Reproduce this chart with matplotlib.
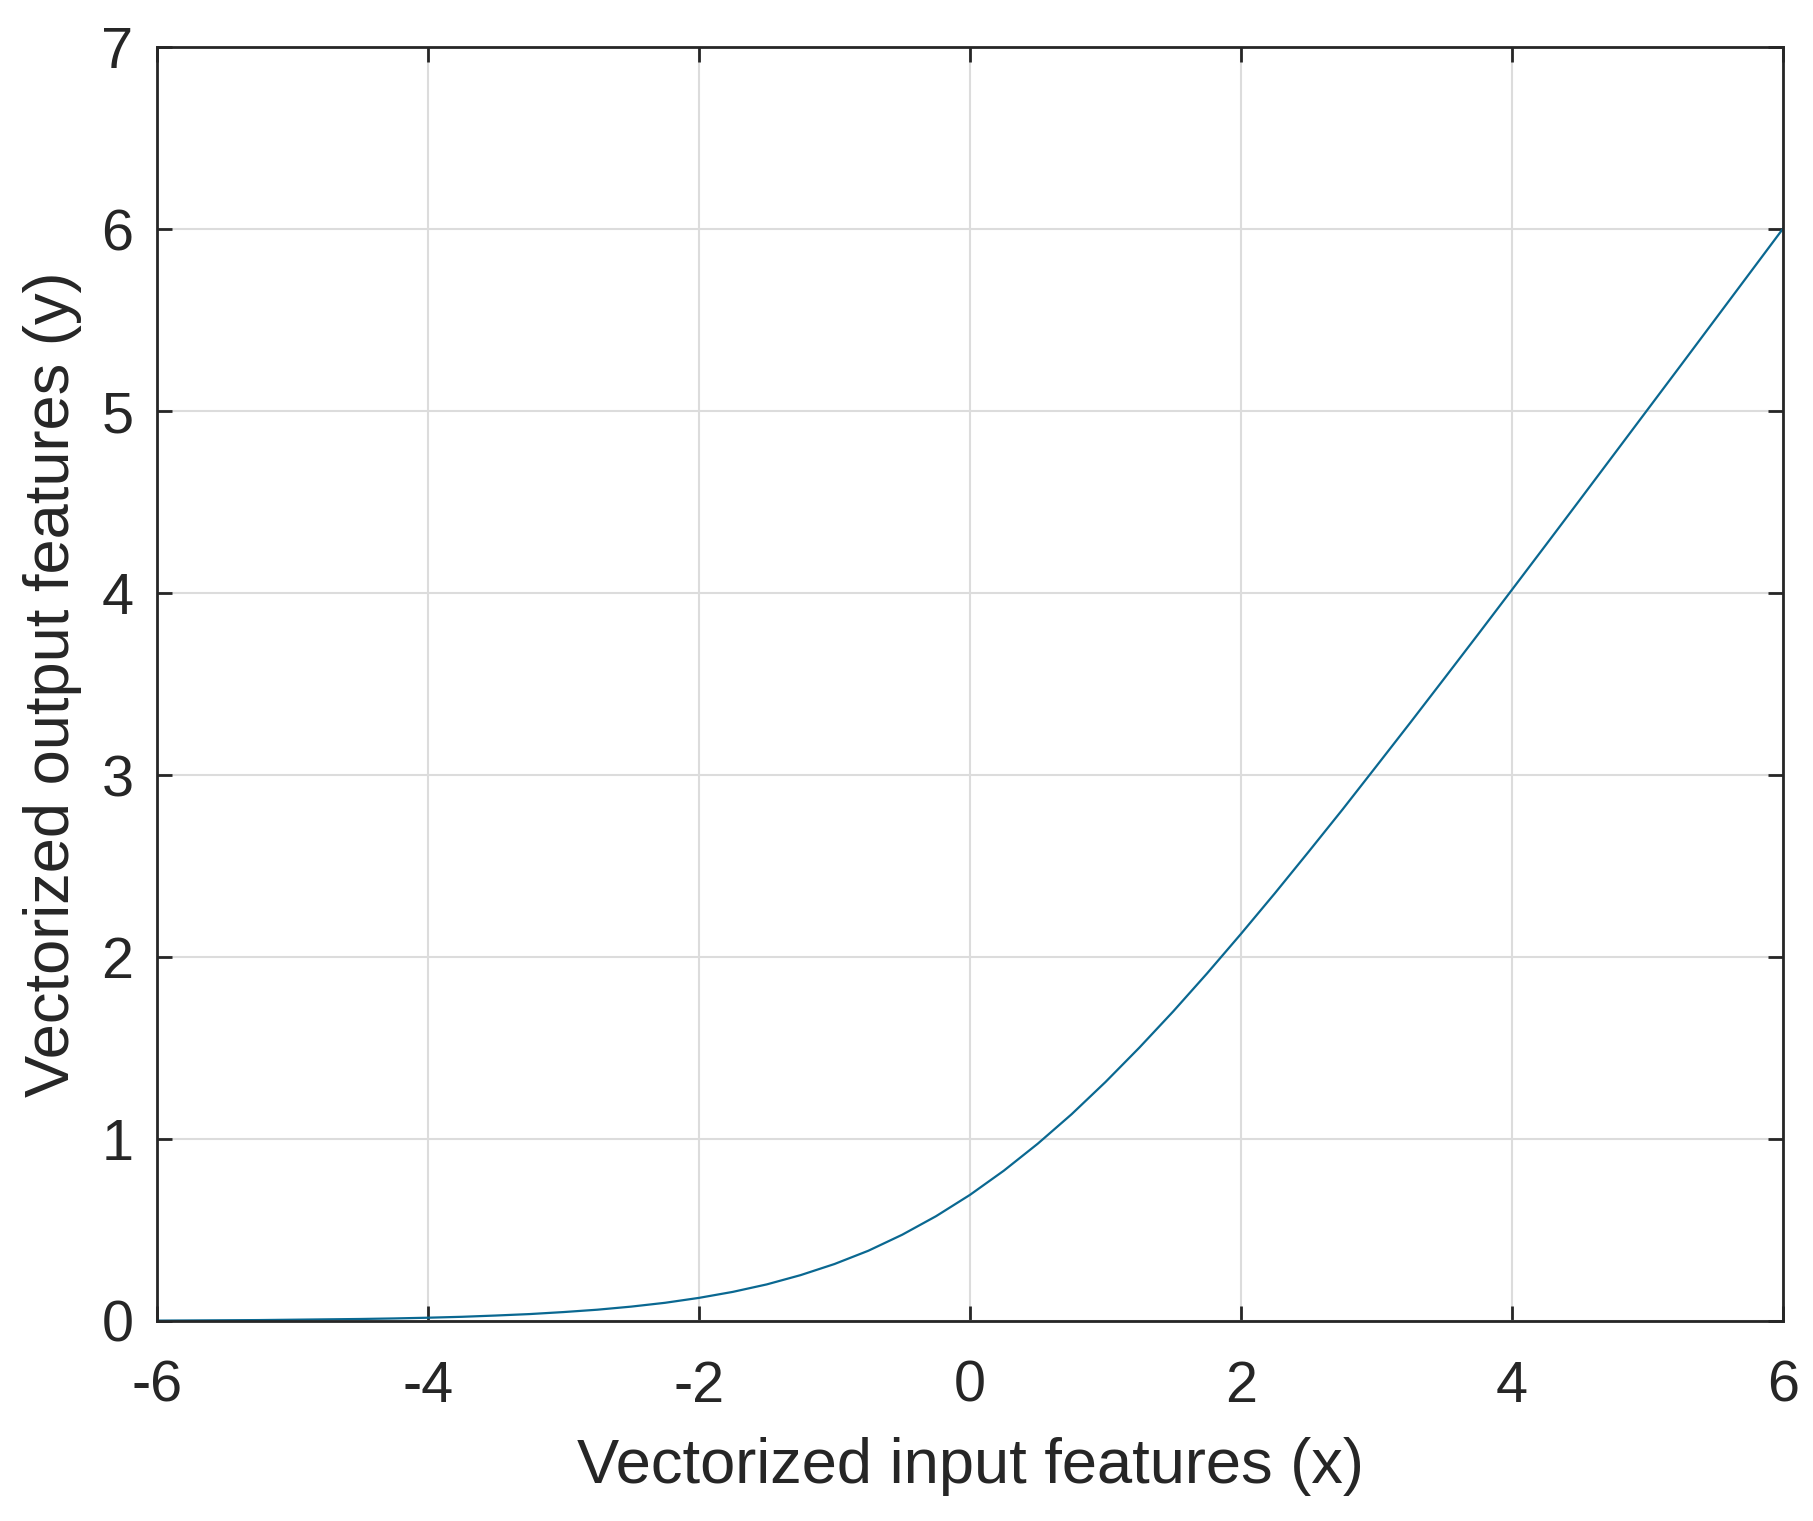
import matplotlib.pyplot as plt
import numpy as np

# Values
x_vals = [-6.0, -5.75, -5.5, -5.25, -5.0, -4.75, -4.5, -4.25, -4.0, -3.75, -3.5, -3.25,
          -3.0, -2.75, -2.5, -2.25, -2.0, -1.75, -1.5, -1.25, -1.0, -0.75, -0.5, -0.25,
          0.0, 0.25, 0.5, 0.75, 1.0, 1.25, 1.5, 1.75, 2.0, 2.25, 2.5, 2.75, 3.0, 3.25,
          3.5, 3.75, 4.0, 4.25, 4.5, 4.75, 5.0, 5.25, 5.5, 5.75, 6.0]
y_vals = [0.002, 0.003, 0.004, 0.005, 0.007, 0.009, 0.011, 0.014, 0.018, 0.023, 0.030, 0.038,
          0.049, 0.062, 0.079, 0.100, 0.127, 0.160, 0.201, 0.252, 0.313, 0.386, 0.474, 0.576,
          0.693, 0.826, 0.974, 1.136, 1.313, 1.502, 1.701, 1.910, 2.127, 2.350, 2.579, 2.811, 3.049, 3.288,
          3.530, 3.773, 4.018, 4.264, 4.511, 4.759, 5.007, 5.255, 5.504, 5.753, 6.002]

x_ticks = [-6, -4, -2, 0, 2, 4, 6]
y_ticks = [0, 1, 2, 3, 4, 5, 6, 7]

plt.rcParams['font.family'] = ['Liberation Sans', 'DejaVu Sans']

fig = plt.figure(figsize=(18.13, 15.21), dpi=100)
ax = fig.add_axes([0.0866, 0.1315, 0.8968, 0.8375])

ax.plot(x_vals, y_vals, color='#0a6891', linewidth=1.6)

ax.set_xlim(-6, 6)
ax.set_ylim(0, 7)
ax.set_xticks(x_ticks)
ax.set_yticks(y_ticks)
ax.set_xticklabels([str(t) for t in x_ticks])
ax.set_yticklabels([str(t) for t in y_ticks])

ax.grid(color='#dcdcdc', linewidth=1.5)
ax.set_axisbelow(True)
for s in ax.spines.values():
    s.set_linewidth(2.0)
    s.set_color('#262626')

ax.tick_params(direction='in', length=11, width=2, color='#262626',
               top=True, right=True, labelsize=41.5, labelcolor='#262626')
ax.tick_params(axis='x', pad=28)
ax.tick_params(axis='y', pad=17)

ax.set_xlabel('Vectorized input features (x)', fontsize=45.5, color='#262626', labelpad=17)
ax.set_ylabel('Vectorized output features (y)', fontsize=45.5, color='#262626', labelpad=14)

plt.savefig('out.png', dpi=100)
